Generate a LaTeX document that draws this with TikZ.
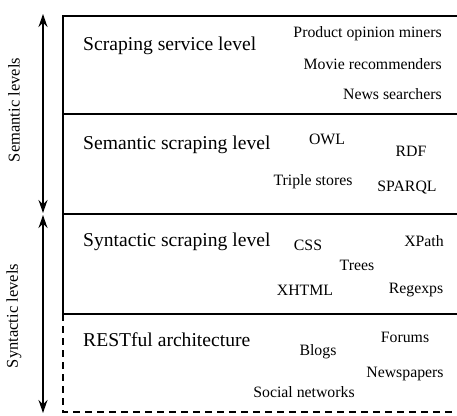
\documentclass[tikz,border=0pt]{standalone}
\usepackage{fontspec}
\setmainfont{Liberation Serif}
\usetikzlibrary{arrows.meta}
\begin{document}
\begin{tikzpicture}[x=1pt,y=-1pt,
  frame/.style={line width=1.4pt},
  dframe/.style={line width=1.4pt,dash pattern=on 7pt off 5pt},
  levelarrow/.style={line width=1.3pt,{Stealth[length=13pt,width=9pt]}-{Stealth[length=13pt,width=9pt]}},
  big/.style={font=\fontsize{19.6}{22}\selectfont,anchor=west,inner sep=0pt},
  small/.style={font=\fontsize{15.8}{18}\selectfont,inner sep=0pt},
  side/.style={font=\fontsize{16.5}{18}\selectfont,rotate=90,inner sep=0pt}]
\useasboundingbox (0,0) rectangle (457,415);
% frame
\coordinate (tl) at (63,16);
\coordinate (tr) at (460,16);
\coordinate (l1) at (63,114);
\coordinate (r1) at (460,114);
\coordinate (l2) at (63,214);
\coordinate (r2) at (460,214);
\coordinate (l3) at (63,314);
\coordinate (r3) at (460,314);
\coordinate (bl) at (63,412);
\coordinate (br) at (460,412);
\draw[frame] (tr) -- (tl) -- (l3);
\draw[frame] (l1) -- (r1);
\draw[frame] (l2) -- (r2);
\draw[frame] (l3) -- (r3);
\draw[dframe] (l3) -- (bl) -- (br);
% level arrows
\coordinate (a1) at (43,14);
\coordinate (a2) at (43,213);
\coordinate (a3) at (43,215);
\coordinate (a4) at (43,413);
\draw[levelarrow] (a1) -- (a2);
\draw[levelarrow] (a3) -- (a4);
\node[side] (sem) at (14,110) {Semantic levels};
\node[side] (syn) at (14,316) {Syntactic levels};
% level 1
\node[big] (L1) at (83,46) {Scraping service level};
\node[small,anchor=east] (p1) at (442,34) {Product opinion miners};
\node[small,anchor=east] (p2) at (442,64) {Movie recommenders};
\node[small,anchor=east] (p3) at (442,94) {News searchers};
% level 2
\node[big] (L2) at (83,145) {Semantic scraping level};
\node[small] (owl) at (327,139) {OWL};
\node[small] (rdf) at (411,151) {RDF};
\node[small] (ts) at (313,182) {Triple stores};
\node[small] (sparql) at (407,188) {SPARQL};
% level 3
\node[big] (L3) at (83,242) {Syntactic scraping level};
\node[small] (css) at (308,245) {CSS};
\node[small] (xpath) at (424,241) {XPath};
\node[small] (trees) at (357,265) {Trees};
\node[small] (xhtml) at (305,290) {XHTML};
\node[small] (regex) at (416,290) {Regexps};
% level 4
\node[big] (L4) at (83,340) {RESTful architecture};
\node[small] (forums) at (405,337) {Forums};
\node[small] (blogs) at (318,352) {Blogs};
\node[small] (news) at (405,374) {Newspapers};
\node[small] (social) at (304,392) {Social networks};
\end{tikzpicture}
\end{document}
